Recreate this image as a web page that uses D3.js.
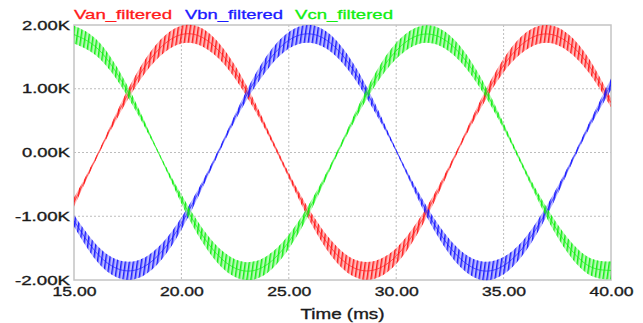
<!DOCTYPE html>
<html>
<head>
<meta charset="utf-8">
<style>
  body { margin: 0; background: #fff; }
  svg { display: block; font-family: "Liberation Sans", Arial, sans-serif; }
</style>
</head>
<body>
<div id="chart"></div>
<script src="https://cdnjs.cloudflare.com/ajax/libs/d3/7.8.5/d3.min.js"></script>
<script>
// sample times (ms)
var time = [15,16,17,18,19,20,21,22,23,24,25,26,27,28,29,30,31,32,33,34,35,36,37,38,39,40];

// top and bottom of the switching ripple band (kV)
var vanHi = [-0.71,-0.08,0.64,1.29,1.76,1.99,1.94,1.61,1.07,0.38,-0.32,-0.92,-1.39,-1.67,-1.70,-1.50,-1.08,-0.51,0.16,0.87,1.47,1.87,2.00,1.86,1.46,0.85];
var vanLo = [-0.85,-0.13,0.53,1.10,1.51,1.71,1.66,1.38,0.90,0.30,-0.40,-1.09,-1.63,-1.94,-1.98,-1.75,-1.27,-0.62,0.10,0.73,1.26,1.60,1.72,1.59,1.24,0.71];

var vbnHi = [-0.98,-1.43,-1.68,-1.69,-1.46,-1.02,-0.44,0.24,0.95,1.53,1.89,2.00,1.83,1.40,0.78,0.05,-0.60,-1.15,-1.54,-1.71,-1.64,-1.34,-0.84,-0.22,0.48,1.16];
var vbnLo = [-1.16,-1.68,-1.96,-1.97,-1.71,-1.21,-0.54,0.17,0.80,1.30,1.63,1.72,1.57,1.19,0.64,0.01,-0.72,-1.35,-1.80,-2.00,-1.91,-1.56,-1.00,-0.30,0.39,0.98];

var vcnHi = [1.99,1.79,1.34,0.70,-0.03,-0.66,-1.20,-1.57,-1.72,-1.62,-1.29,-0.78,-0.15,0.56,1.23,1.72,1.97,1.95,1.66,1.14,0.46,-0.25,-0.86,-1.35,-1.65,-1.71];
var vcnLo = [1.71,1.53,1.14,0.58,-0.07,-0.80,-1.42,-1.84,-2.00,-1.89,-1.51,-0.93,-0.22,0.46,1.04,1.47,1.70,1.68,1.42,0.96,0.37,-0.32,-1.02,-1.58,-1.92,-1.99];

var seriesNames = ["Van_filtered", "Vbn_filtered", "Vcn_filtered"];
var seriesColors = ["#ff1a1a", "#1a1aff", "#11ee11"];
var xTicks = [15, 20, 25, 30, 35, 40];
var yTicks = [2, 1, 0, -1, -2];

var W = 643, H = 323;
var margin = {top: 25, right: 32, bottom: 43, left: 74},
    width = W - margin.left - margin.right,
    height = H - margin.top - margin.bottom;

var x = d3.scaleLinear().domain([15, 40]).range([0, width]);
var y = d3.scaleLinear().domain([-2, 2]).range([height, 0]);

var root = d3.select("#chart").append("svg")
    .attr("width", W).attr("height", H);
root.append("rect").attr("width", W).attr("height", H).attr("fill", "#fff");

var defs = root.append("defs");
defs.append("clipPath").attr("id", "plotclip")
  .append("rect").attr("x", 0).attr("y", -1).attr("width", width).attr("height", height + 2);

// slanted stripes stand in for the dense PWM ripple teeth
seriesColors.forEach(function(c, i) {
    var p = defs.append("pattern").attr("id", "rip" + i)
        .attr("patternUnits", "userSpaceOnUse")
        .attr("width", 4).attr("height", 8)
        .attr("patternTransform", "skewX(-8)");
    p.append("rect").attr("x", 0).attr("y", 0).attr("width", 1.5).attr("height", 8).attr("fill", c);
});

var svg = root.append("g").attr("transform", "translate(" + margin.left + "," + margin.top + ")");

// grid
svg.selectAll(".gx").data(xTicks.slice(1, -1)).enter().append("line")
    .attr("x1", d => x(d)).attr("x2", d => x(d))
    .attr("y1", 0).attr("y2", height)
    .attr("stroke", "#bdbdbd").attr("stroke-dasharray", "2,2");
svg.selectAll(".gy").data(yTicks.slice(1, -1)).enter().append("line")
    .attr("y1", d => y(d)).attr("y2", d => y(d))
    .attr("x1", 0).attr("x2", width)
    .attr("stroke", "#bdbdbd").attr("stroke-dasharray", "2,2");

// frame
svg.append("rect").attr("width", width).attr("height", height)
    .attr("fill", "none").attr("stroke", "#c4c4c4").attr("stroke-width", 1.5);

var series = [
    {hi: vanHi, lo: vanLo},
    {hi: vbnHi, lo: vbnLo},
    {hi: vcnHi, lo: vcnLo}
];

var plot = svg.append("g").attr("clip-path", "url(#plotclip)");

series.forEach(function(s, i) {
    var pts = time.map((t, k) => ({t: t, hi: s.hi[k], lo: s.lo[k]}));
    var band = d3.area()
        .x(d => x(d.t)).y0(d => y(d.lo)).y1(d => y(d.hi))
        .curve(d3.curveNatural);
    var mid = d3.line()
        .x(d => x(d.t)).y(d => y((d.hi + d.lo) / 2))
        .curve(d3.curveNatural);
    plot.append("path").datum(pts).attr("d", band)
        .attr("fill", seriesColors[i]).attr("fill-opacity", 0.3);
    plot.append("path").datum(pts).attr("d", band)
        .attr("fill", "url(#rip" + i + ")");
    plot.append("path").datum(pts).attr("d", mid)
        .attr("fill", "none").attr("stroke", seriesColors[i])
        .attr("stroke-width", 0.9).attr("stroke-opacity", 0.75);
});

// axes (text is stretched wide like the original export)
var yAxis = svg.append("g").call(d3.axisLeft(y).tickValues(yTicks)
    .tickFormat(d => d.toFixed(2) + "K").tickSize(0).tickPadding(4));
yAxis.select(".domain").remove();
yAxis.selectAll("text")
    .attr("font-size", 13).attr("fill", "#1a1a1a")
    .attr("stroke", "#1a1a1a").attr("stroke-width", 0.35)
    .attr("font-family", "Liberation Sans, Arial, sans-serif")
    .attr("lengthAdjust", "spacingAndGlyphs")
    .attr("textLength", d => d < 0 ? 55 : 48);

var xAxis = svg.append("g").attr("transform", "translate(0," + height + ")")
    .call(d3.axisBottom(x).tickValues(xTicks).tickFormat(d => d.toFixed(2)).tickSize(0));
xAxis.select(".domain").remove();
xAxis.selectAll("text")
    .attr("y", 7).attr("dy", "0.71em")
    .attr("font-size", 13).attr("fill", "#1a1a1a")
    .attr("stroke", "#1a1a1a").attr("stroke-width", 0.35)
    .attr("font-family", "Liberation Sans, Arial, sans-serif")
    .attr("lengthAdjust", "spacingAndGlyphs")
    .attr("textLength", 44);

svg.append("text")
    .attr("x", width / 2).attr("y", height + 39)
    .attr("text-anchor", "middle")
    .attr("font-size", 14).attr("fill", "#1a1a1a")
    .attr("stroke", "#1a1a1a").attr("stroke-width", 0.35)
    .attr("lengthAdjust", "spacingAndGlyphs").attr("textLength", 84)
    .text("Time (ms)");

// legend
var legendX = [0, 111, 221];
seriesNames.forEach(function(n, i) {
    svg.append("text")
        .attr("x", legendX[i]).attr("y", -6)
        .attr("font-size", 13).attr("fill", seriesColors[i])
        .attr("stroke", seriesColors[i]).attr("stroke-width", 0.3)
        .attr("lengthAdjust", "spacingAndGlyphs").attr("textLength", 98)
        .text(n);
});
</script>
</body>
</html>
